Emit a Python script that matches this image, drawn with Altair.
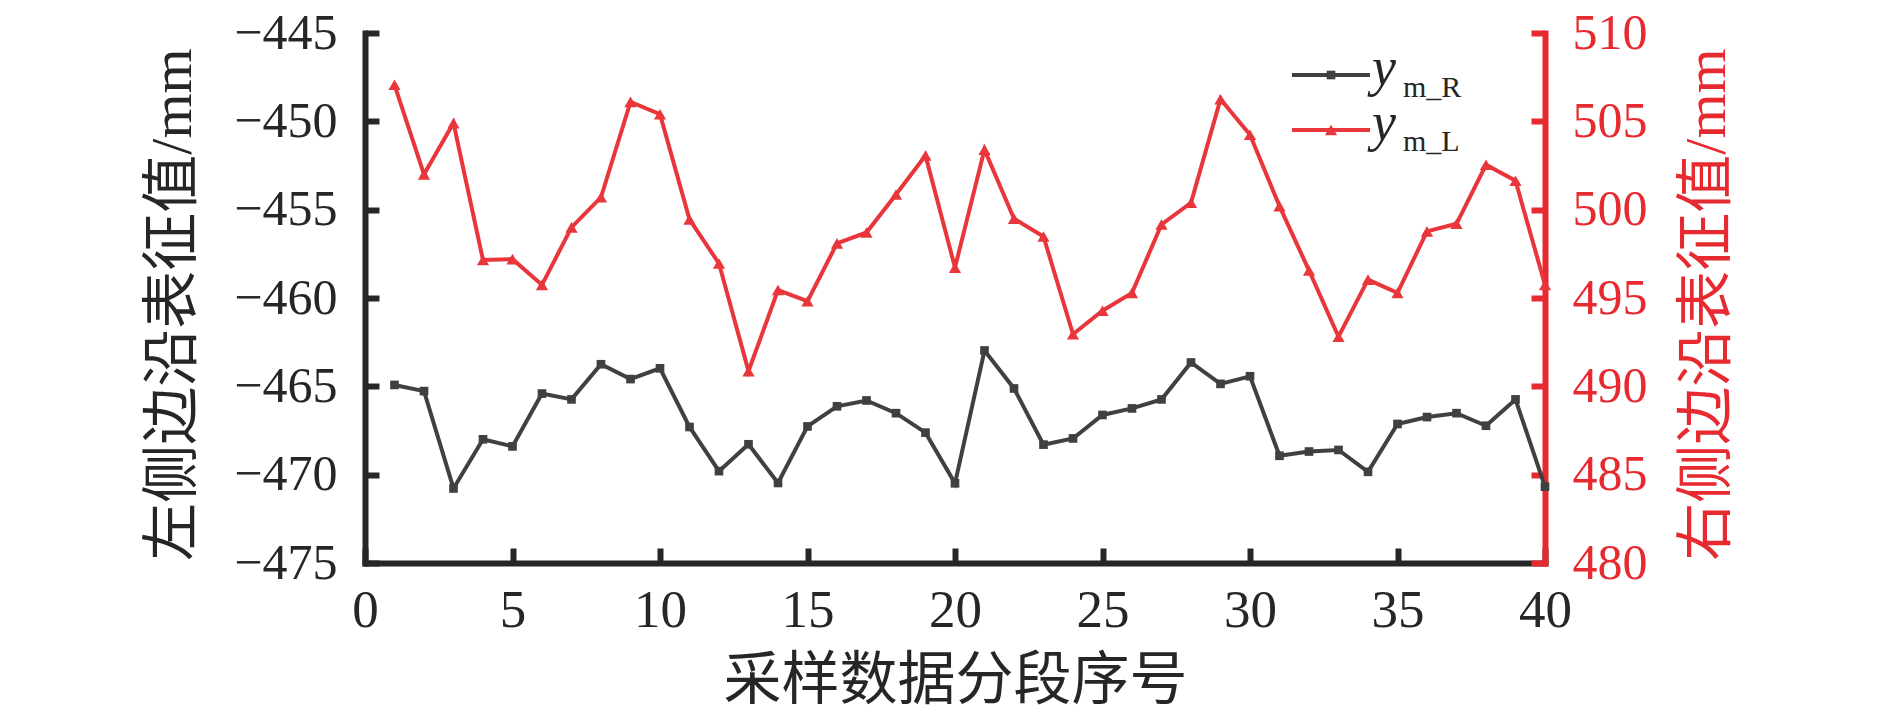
import altair as alt
import pandas as pd

# ---------------- data ----------------
segments = list(range(1, 41))
y_m_R = [-464.92, -465.27, -470.78, -468.00, -468.40, -465.41, -465.74, -463.75, -464.59, -463.98,
         -467.30, -469.80, -468.28, -470.47, -467.27, -466.13, -465.80, -466.52, -467.62, -470.49,
         -462.97, -465.12, -468.30, -467.95, -466.62, -466.25, -465.74, -463.65, -464.86, -464.43,
         -468.93, -468.69, -468.60, -469.84, -467.13, -466.74, -466.52, -467.23, -465.74, -470.68]
y_m_L = [507.07, 502.00, 504.90, 497.15, 497.20, 495.74, 499.00, 500.70, 506.10, 505.40,
         499.45, 496.95, 490.86, 495.45, 494.82, 498.09, 498.71, 500.86, 503.07, 496.72,
         503.40, 499.49, 498.48, 492.95, 494.28, 495.29, 499.16, 500.39, 506.25, 504.24,
         500.20, 496.56, 492.81, 496.04, 495.29, 498.77, 499.20, 502.54, 501.64, 495.74]

x_ticks = [0, 5, 10, 15, 20, 25, 30, 35, 40]
left_ticks = [-475, -470, -465, -460, -455, -450, -445]
right_ticks = [480, 485, 490, 495, 500, 505, 510]

x_title = "采样数据分段序号"
left_title = "左侧边沿表征值/mm"
right_title = "右侧边沿表征值/mm"
legend_subs = ["m_R", "m_L"]

# ---------------- style ----------------
DARK = "#262626"
BLACK = "#404040"
RED = "#e8363b"
RED_AXIS = "#e62a30"
LATIN = "Liberation Serif"
MIXED = "Liberation Serif, Noto Sans CJK SC"

df = pd.DataFrame({"seg": segments, "R": y_m_R, "L": y_m_L})

x_enc = alt.X(
    "seg:Q",
    scale=alt.Scale(domain=[0, 40], nice=False, zero=False),
    axis=alt.Axis(
        values=x_ticks, format="d", grid=False, labelFlush=False, labelOverlap=False,
        domainColor=DARK, domainWidth=6, domainCap="square",
        tickColor=DARK, tickWidth=6, tickSize={"expr": "-15"},
        labelFont=LATIN, labelFontSize=53, labelColor=DARK, labelPadding=36,
        title=x_title, titleFont=MIXED, titleFontSize=58, titleFontWeight="normal",
        titleColor=DARK, titleX=590, titleY=118, titleAlign="center", titleBaseline="middle",
    ),
)

base = alt.Chart(df)

left_y = alt.Y(
    "R:Q",
    scale=alt.Scale(domain=[-475, -445], nice=False, zero=False),
    axis=alt.Axis(
        values=left_ticks, format="d", grid=False, orient="left", labelOverlap=False,
        domainColor=DARK, domainWidth=6, domainCap="square",
        tickColor=DARK, tickWidth=6, tickSize={"expr": "-14"},
        labelFont=LATIN, labelFontSize=50, labelColor=DARK, labelPadding=42,
        title=left_title, titleFont=MIXED, titleFontSize=58, titleFontWeight="normal",
        titleColor=DARK, titleAngle=270, titleX=-192, titleY=271,
        titleAlign="center", titleBaseline="middle",
    ),
)

right_y = alt.Y(
    "L:Q",
    scale=alt.Scale(domain=[480, 510], nice=False, zero=False),
    axis=alt.Axis(
        values=right_ticks, format="d", grid=False, orient="right", labelOverlap=False,
        domainColor=RED_AXIS, domainWidth=6, domainCap="square",
        tickColor=RED_AXIS, tickWidth=6, tickSize={"expr": "-14"},
        labelFont=LATIN, labelFontSize=50, labelColor=RED_AXIS, labelPadding=41,
        title=right_title, titleFont=MIXED, titleFontSize=58, titleFontWeight="normal",
        titleColor=RED_AXIS, titleAngle=270, titleX=162, titleY=271,
        titleAlign="center", titleBaseline="middle",
    ),
)

black_line = base.mark_line(color=BLACK, strokeWidth=4).encode(x=x_enc, y=left_y)
black_pts = base.mark_point(shape="square", filled=True, size=75, color=BLACK, opacity=1).encode(
    x=x_enc, y=alt.Y("R:Q")
)
left_layer = alt.layer(black_line, black_pts)

red_line = base.mark_line(color=RED, strokeWidth=4).encode(x=x_enc, y=right_y)
red_pts = base.mark_point(shape="triangle-up", filled=True, size=150, color=RED, opacity=1).encode(
    x=x_enc, y=alt.Y("L:Q")
)
right_layer = alt.layer(red_line, red_pts)

# ---------------- legend (drawn manually for italic y + subscript) ----------------
legend_layers = []
legend_colors = [BLACK, RED]
legend_shapes = ["square", "triangle-up"]
legend_sizes = [75, 150]
row_line_y = [42, 97]
row_y_base = [52, 107]
row_sub_base = [64, 118]
for i, sub in enumerate(legend_subs):
    ldf = pd.DataFrame({"sub": [sub]})
    lc = alt.Chart(ldf)
    legend_layers.append(
        lc.mark_rule(color=legend_colors[i], strokeWidth=4).encode(
            x=alt.value(927), x2=alt.value(1005), y=alt.value(row_line_y[i])
        )
    )
    legend_layers.append(
        lc.mark_point(shape=legend_shapes[i], filled=True, size=legend_sizes[i],
                      color=legend_colors[i], opacity=1).encode(
            x=alt.value(966), y=alt.value(row_line_y[i])
        )
    )
    legend_layers.append(
        lc.mark_text(text="y", font=LATIN, fontStyle="italic", fontSize=54, color=DARK,
                     align="left", baseline="alphabetic").encode(
            x=alt.value(1007), y=alt.value(row_y_base[i])
        )
    )
    legend_layers.append(
        lc.mark_text(font=LATIN, fontSize=30, color=DARK, align="left", baseline="alphabetic").encode(
            text="sub:N", x=alt.value(1038), y=alt.value(row_sub_base[i])
        )
    )

chart = (
    alt.layer(left_layer, right_layer, *legend_layers)
    .resolve_scale(y="independent")
    .properties(
        width=1180,
        height=530,
        padding={"left": 357, "top": 25, "right": 337, "bottom": 148},
        autosize=alt.AutoSizeParams(type="none"),
        background="white",
    )
    .configure_view(stroke=None)
)

chart.save("out.html", embed_options={"renderer": "svg", "actions": False})
